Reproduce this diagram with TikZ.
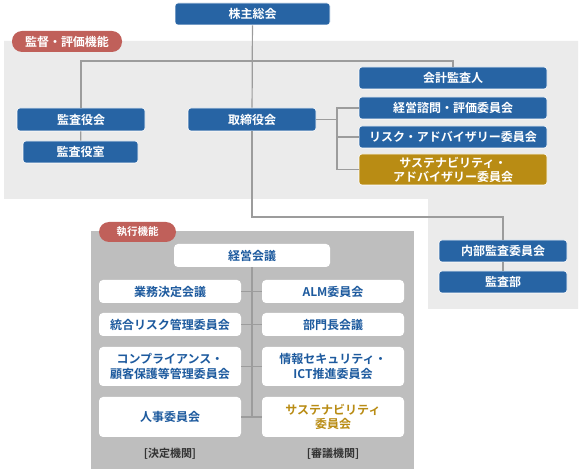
\documentclass[tikz,border=0pt]{standalone}
\usepackage{fontspec}
\setmainfont{Noto Sans CJK JP}[BoldFont={Noto Sans CJK JP Bold}]
\usepackage{tikz}
\definecolor{boxblue}{HTML}{2764A4}
\definecolor{boxgold}{HTML}{B98C14}
\definecolor{pillred}{HTML}{C0605A}
\definecolor{lightbg}{HTML}{EBEBEB}
\definecolor{darkbg}{HTML}{BEBEBE}
\definecolor{linegray}{HTML}{9C9C9C}
\definecolor{textblue}{HTML}{1D5A9E}
\tikzstyle{blue} = [rectangle, rounded corners=3pt, fill=boxblue, draw=white, line width=0.6pt, text=white, font=\fontsize{12}{14.5}\selectfont\bfseries, align=center, inner sep=0pt]
\tikzstyle{gold} = [blue, fill=boxgold]
\tikzstyle{white} = [rectangle, rounded corners=4pt, fill=white, text=textblue, font=\fontsize{12}{14.5}\selectfont\bfseries, align=center, inner sep=0pt, minimum width=142pt]
\tikzstyle{pill} = [rectangle, rounded corners=10pt, fill=pillred, text=white, font=\fontsize{12}{14}\selectfont\bfseries, inner sep=0pt, minimum height=21pt]
\tikzstyle{link} = [draw=linegray, line width=1.2pt]
\tikzstyle{organ} = [font=\fontsize{11}{13}\selectfont\bfseries, text=black!80]

\begin{document}
\begin{tikzpicture}[x=1pt, y=-1pt]

        \useasboundingbox (0,0) rectangle (582,473);

        %% backgrounds

        \fill[lightbg] (4,41) -- (578,41) -- (578,309) -- (428,309) -- (428,199) -- (4,199) -- cycle;
        \fill[darkbg] (91,231) rectangle (414,469);

        \node (kantoku) [pill, minimum width=110pt] at (67,41.5) {監督・評価機能};
        \node (shikko) [pill, minimum width=77pt, minimum height=20pt, font=\fontsize{10.5}{12}\selectfont\bfseries] at (137.5,232) {執行機能};

        %% 監督・評価機能

        \node (kabunushi) [blue, minimum width=155pt, minimum height=22pt] at (252.5,14) {株主総会};
        \node (kansayakukai) [blue, minimum width=128pt, minimum height=23pt] at (81,119.5) {監査役会};
        \node (kansayakushitsu) [blue, minimum width=115pt, minimum height=22pt] at (80.5,152) {監査役室};
        \node (torishimari) [blue, minimum width=128pt, minimum height=23pt] at (252,119.5) {取締役会};

        \node (kaikei) [blue, minimum width=188pt, minimum height=22pt] at (453,78) {会計監査人};
        \node (shimon) [blue, minimum width=188pt, minimum height=22pt] at (453,108) {経営諮問・評価委員会};
        \node (riskadv) [blue, minimum width=188pt, minimum height=22pt] at (453,137) {リスク・アドバイザリー委員会};
        \node (sustadv) [gold, minimum width=188pt, minimum height=31pt, font=\fontsize{12}{14}\selectfont\bfseries] at (453,169.5) {サステナビリティ・\\アドバイザリー委員会};

        \node (naibu) [blue, minimum width=128pt, minimum height=22pt] at (503,251) {内部監査委員会};
        \node (kansabu) [blue, minimum width=128pt, minimum height=22pt] at (503,282) {監査部};

        \coordinate (top) at (252,61);
        \coordinate (mid) at (252,217);
        \coordinate (torib) at (337,119.5);

        \draw[link] (kabunushi) -- (torishimari);
        \draw[link] (kansayakukai.north) |- (top) -| (kaikei.north);
        \draw[link] (kansayakukai) -- (kansayakushitsu);
        \draw[link] (torishimari.east) -- (torib);
        \draw[link] (torib) |- (shimon.west);
        \draw[link] (torib) |- (riskadv.west);
        \draw[link] (torib) |- (sustadv.west);
        \draw[link] (torishimari) -- (mid) -| (naibu.north);
        \draw[link] (naibu) -- (kansabu);

        %% 執行機能

        \node (keieikaigi) [white, minimum width=156pt, minimum height=23pt] at (252,255.5) {経営会議};

        \node (gyomu) [white, minimum height=23pt] at (170,291.5) {業務決定会議};
        \node (togorisk) [white, minimum height=23pt] at (170,324.5) {統合リスク管理委員会};
        \node (compliance) [white, minimum height=39pt] at (170,366.5) {コンプライアンス・\\顧客保護等管理委員会};
        \node (jinji) [white, minimum height=40pt] at (170,417) {人事委員会};

        \node (alm) [white, minimum height=23pt] at (333,291.5) {ALM委員会};
        \node (bumon) [white, minimum height=23pt] at (333,324.5) {部門長会議};
        \node (joho) [white, minimum height=39pt] at (333,366.5) {情報セキュリティ・\\ICT推進委員会};
        \node (sustain) [white, minimum height=40pt, text=boxgold] at (333,417) {サステナビリティ\\委員会};

        \node (kettei) [organ] at (170,454) {[決定機関]};
        \node (shingi) [organ] at (333,454) {[審議機関]};

        \coordinate (low) at (252,417);

        \draw[link] (keieikaigi) -- (low);
        \draw[link] (gyomu) -- (alm);
        \draw[link] (togorisk) -- (bumon);
        \draw[link] (compliance) -- (joho);
        \draw[link] (jinji) -- (sustain);

    \end{tikzpicture}
\end{document}
